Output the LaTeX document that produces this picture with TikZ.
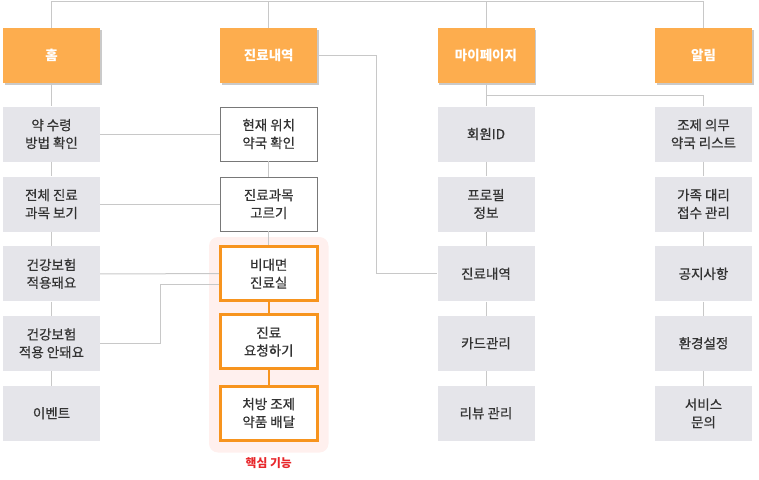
\documentclass[tikz,border=0pt]{standalone}
\usepackage{fontspec}
\setmainfont{Noto Sans CJK KR}
\newfontfamily\medfont[FakeBold=0.6]{Noto Sans CJK KR}
\usetikzlibrary{shadows}
\definecolor{hdr}{RGB}{253,173,78}
\definecolor{boxgray}{RGB}{229,229,234}
\definecolor{linegray}{RGB}{200,200,200}
\definecolor{orng}{RGB}{247,148,30}
\definecolor{pinkbg}{RGB}{255,240,238}
\definecolor{txt}{RGB}{51,51,51}
\definecolor{keyred}{RGB}{232,38,42}
\definecolor{wborder}{RGB}{120,120,120}
\tikzset{
  header/.style={fill=hdr, minimum width=97pt, minimum height=55pt, inner sep=0pt,
    text=white, font=\fontsize{13.5}{16}\selectfont\bfseries,
    drop shadow={shadow xshift=1.5pt, shadow yshift=-1.5pt, opacity=0.35, fill=black!60}},
  graybox/.style={fill=boxgray, minimum width=97pt, minimum height=55pt, inner sep=0pt,
    text=txt, align=center, font=\fontsize{13.5}{17.8}\medfont},
  whitebox/.style={fill=white, draw=wborder, line width=0.8pt, minimum width=97pt, minimum height=54pt, inner sep=0pt,
    text=txt, align=center, font=\fontsize{13.5}{17.8}\medfont},
  keybox/.style={fill=white, draw=orng, line width=3pt, minimum width=97pt, minimum height=54pt, inner sep=0pt,
    text=txt, align=center, font=\fontsize{13.5}{17.8}\medfont},
  conn/.style={draw=linegray, line width=1pt},
  keyconn/.style={draw=orng, line width=1.5pt},
}
\begin{document}
\begin{tikzpicture}[x=1pt, y=-1pt]
\useasboundingbox (0,0) rectangle (759,479);
% highlight background
\fill[pinkbg, rounded corners=9pt] (209,237) rectangle (328.5,452.5);
\node[text=keyred, font=\fontsize{11.8}{13}\selectfont\bfseries] (keylabel) at (268.75,463) {핵심 기능};
\coordinate (top) at (0,1.5);
% headers
\node[header] (h1) at (51.5,55.5) {홈};
\node[header] (h2) at (268.75,55.5) {진료내역};
\node[header] (h3) at (486,55.5) {마이페이지};
\node[header] (h4) at (703.5,55.5) {알림};
% column 1
\node[graybox] (a1) at (51.5,134) {약 수령\\방법 확인};
\node[graybox] (a2) at (51.5,204) {전체 진료\\과목 보기};
\node[graybox] (a3) at (51.5,273.8) {건강보험\\적용돼요};
\node[graybox] (a4) at (51.5,343.3) {건강보험\\적용 안돼요};
\node[graybox] (a5) at (51.5,413.3) {이벤트};
% column 2
\node[whitebox] (b1) at (268.75,134) {현재 위치\\약국 확인};
\node[whitebox] (b2) at (268.75,204) {진료과목\\고르기};
\node[keybox] (b3) at (268.75,273.7) {비대면\\진료실};
\node[keybox] (b4) at (268.75,341.7) {진료\\요청하기};
\node[keybox] (b5) at (268.75,413) {처방 조제\\약품 배달};
% column 3
\node[graybox] (c1) at (486,134) {회원ID};
\node[graybox] (c2) at (486,204) {프로필\\정보};
\node[graybox] (c3) at (486,273.8) {진료내역};
\node[graybox] (c4) at (486,343.3) {카드관리};
\node[graybox] (c5) at (486,413.3) {리뷰 관리};
% column 4
\node[graybox] (d1) at (703.5,134) {조제 의무\\약국 리스트};
\node[graybox] (d2) at (703.5,204) {가족 대리\\접수 관리};
\node[graybox] (d3) at (703.5,273.8) {공지사항};
\node[graybox] (d4) at (703.5,343.3) {환경설정};
\node[graybox] (d5) at (703.5,413.3) {서비스\\문의};
% top connectors
\draw[conn] (h1.north) |- (h4.north |- top) -- (h4.north);
\draw[conn] (h2.north) -- (h2.north |- top);
\draw[conn] (h3.north) -- (h3.north |- top);
% column 1 verticals
\draw[conn] (h1.south) -- (a1.north);
\draw[conn] (a1.south) -- (a2.north);
\draw[conn] (a2.south) -- (a3.north);
\draw[conn] (a3.south) -- (a4.north);
\draw[conn] (a4.south) -- (a5.north);
% column 2
\draw[conn] (b1.south) -- (b2.north);
\draw[conn] (b2.south) -- (b3.north);
\draw[keyconn] (b3.south) -- (b4.north);
\draw[keyconn] (b4.south) -- (b5.north);
% column 1 -> column 2
\draw[conn] (a1.east) -- (b1.west);
\draw[conn] (a2.east) -- (b2.west);
\draw[conn] (a3.east) -- (b3.west);
\draw[conn] (a4.east) -- ++(60,0) |- ([yshift=-10.6pt]b3.west);
% header 2 -> column 3
\draw[conn] (h2.east) -- ++(59.5,0) |- (c3.west);
% column 3
\draw[conn] (h3.south) -- (c1.north);
\draw[conn] (c1.south) -- (c2.north);
\draw[conn] (c2.south) -- (c3.north);
\draw[conn] (c3.south) -- (c4.north);
\draw[conn] (c4.south) -- (c5.north);
% column 4 (attached to the 마이페이지 branch)
\draw[conn] ([yshift=-12.7pt]h3.south) -| (d1.north);
\draw[conn] (d1.south) -- (d2.north);
\draw[conn] (d2.south) -- (d3.north);
\draw[conn] (d3.south) -- (d4.north);
\draw[conn] (d4.south) -- (d5.north);
\end{tikzpicture}
\end{document}
